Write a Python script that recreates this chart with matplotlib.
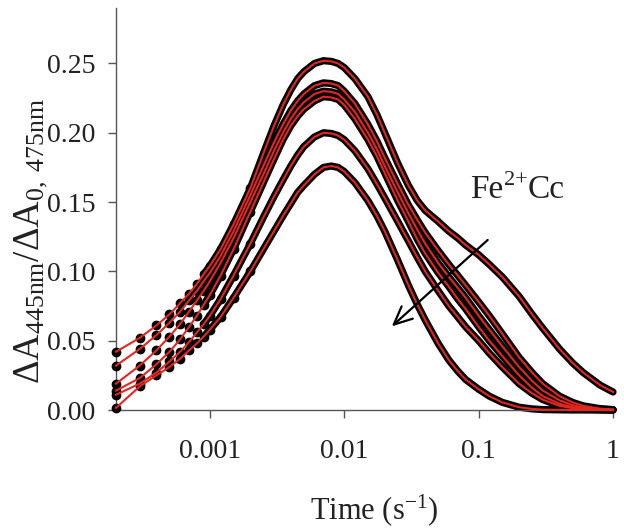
import matplotlib
matplotlib.use("Agg")
import matplotlib.pyplot as plt
import numpy as np

plt.rcParams['font.family'] = ['Liberation Serif', 'DejaVu Serif']
plt.rcParams['mathtext.fontset'] = 'custom'
plt.rcParams['mathtext.rm'] = 'Liberation Serif'
plt.rcParams['mathtext.it'] = 'Liberation Serif:italic'

# time points (s)
time = [0.0002, 0.0003, 0.0004, 0.0005, 0.0006, 0.0007, 0.0008, 0.0009, 0.001,
        0.0012, 0.0015, 0.002, 0.0025, 0.003, 0.0035, 0.004, 0.0045, 0.005, 0.006,
        0.007, 0.008, 0.009, 0.01, 0.012, 0.015, 0.0175, 0.02, 0.025, 0.03, 0.035,
        0.04, 0.05, 0.06, 0.07, 0.08, 0.1, 0.12, 0.15, 0.2, 0.25, 0.3, 0.4, 0.5,
        0.6, 0.8, 1.0]

curve1 = [0.042, 0.052, 0.061, 0.069, 0.077, 0.084, 0.091, 0.098, 0.104,
          0.116, 0.134, 0.160, 0.185, 0.205, 0.220, 0.231, 0.239, 0.244, 0.250,
          0.252, 0.2515, 0.250, 0.247, 0.239, 0.226, 0.213, 0.200, 0.178, 0.162, 0.151,
          0.144, 0.136, 0.129, 0.124, 0.119, 0.112, 0.105, 0.096, 0.082, 0.069, 0.059,
          0.044, 0.034, 0.027, 0.018, 0.013]
curve2 = [0.032, 0.044, 0.054, 0.063, 0.071, 0.079, 0.086, 0.093, 0.099,
          0.111, 0.129, 0.155, 0.176, 0.193, 0.206, 0.216, 0.223, 0.228, 0.234,
          0.236, 0.2355, 0.234, 0.230, 0.221, 0.206, 0.194, 0.182, 0.163, 0.148, 0.137,
          0.128, 0.115, 0.105, 0.097, 0.090, 0.078, 0.068, 0.055, 0.038, 0.027, 0.019,
          0.010, 0.0055, 0.003, 0.001, 0.0003]
curve3 = [0.019, 0.032, 0.043, 0.053, 0.062, 0.071, 0.079, 0.086, 0.093,
          0.106, 0.124, 0.150, 0.170, 0.187, 0.200, 0.210, 0.217, 0.222, 0.228,
          0.230, 0.2295, 0.228, 0.224, 0.215, 0.200, 0.188, 0.176, 0.157, 0.142, 0.130,
          0.120, 0.106, 0.096, 0.088, 0.081, 0.068, 0.058, 0.046, 0.031, 0.021, 0.014,
          0.007, 0.0035, 0.0018, 0.0006, 0.0002]
curve4 = [0.014, 0.023, 0.033, 0.042, 0.051, 0.060, 0.068, 0.076, 0.083,
          0.097, 0.116, 0.143, 0.164, 0.181, 0.195, 0.205, 0.212, 0.217, 0.223,
          0.226, 0.2255, 0.224, 0.220, 0.210, 0.195, 0.183, 0.171, 0.151, 0.136, 0.123,
          0.113, 0.099, 0.089, 0.080, 0.073, 0.060, 0.050, 0.039, 0.025, 0.016, 0.010,
          0.0045, 0.002, 0.001, 0.0003, 0.0001]
curve5 = [0.011, 0.019, 0.027, 0.035, 0.042, 0.049, 0.056, 0.062, 0.068,
          0.080, 0.097, 0.120, 0.139, 0.154, 0.166, 0.176, 0.184, 0.190, 0.197,
          0.200, 0.1995, 0.198, 0.195, 0.187, 0.174, 0.163, 0.153, 0.136, 0.122, 0.110,
          0.100, 0.086, 0.075, 0.067, 0.060, 0.050, 0.041, 0.031, 0.019, 0.012, 0.0075,
          0.003, 0.0013, 0.0006, 0.0002, 0.0]
curve6 = [0.0015, 0.017, 0.025, 0.031, 0.037, 0.043, 0.048, 0.053, 0.058,
          0.067, 0.081, 0.100, 0.116, 0.129, 0.140, 0.149, 0.157, 0.162, 0.170,
          0.175, 0.176, 0.175, 0.172, 0.164, 0.151, 0.140, 0.129, 0.108, 0.090, 0.076,
          0.065, 0.048, 0.036, 0.028, 0.022, 0.015, 0.010, 0.0055, 0.002, 0.0008, 0.0003,
          0.0001, 0.0, 0.0, 0.0, 0.0]

curves = [curve1, curve2, curve3, curve4, curve5, curve6]

xticks = [0.001, 0.01, 0.1, 1]
xticklabels = ['0.001', '0.01', '0.1', '1']
yticks = [0.00, 0.05, 0.10, 0.15, 0.20, 0.25]
yticklabels = ['0.00', '0.05', '0.10', '0.15', '0.20', '0.25']

fig = plt.figure(figsize=(6.24, 5.31), dpi=100)
ax = fig.add_axes([116/624, 121/531, (613-116)/624, (410-8)/531])

t = np.array(time)
early = t <= 0.002
band = t >= 0.0009
for c in curves:
    y = np.array(c)
    ax.plot(t[band], y[band], color='black', lw=5.2, solid_capstyle='round',
            solid_joinstyle='round', zorder=2, clip_on=False)
    ax.plot(t[early], y[early], 'o', color='black', ms=6.0, zorder=3, clip_on=False)
for c in curves:
    ax.plot(t, np.array(c), color='#e3261f', lw=1.5, solid_joinstyle='round',
            zorder=4, clip_on=False)

ax.set_xscale('log')
ax.set_xlim(0.0002, 1)
ax.set_ylim(0, 0.29)
ax.set_xticks(xticks)
ax.set_xticklabels(xticklabels)
ax.xaxis.set_minor_locator(matplotlib.ticker.NullLocator())
ax.set_yticks(yticks)
ax.set_yticklabels(yticklabels)

for s in ['top', 'right']:
    ax.spines[s].set_visible(False)
for s in ['left', 'bottom']:
    ax.spines[s].set_color('#555555')
    ax.spines[s].set_linewidth(1.0)
ax.tick_params(axis='both', direction='out', length=6, width=1.0, color='#555555',
               labelsize=20, labelcolor='#222222')
ax.tick_params(axis='x', pad=15)
ax.tick_params(axis='y', pad=9)

ax.set_xlabel('Time (s$^{-1}$)', fontsize=22, color='#222222')
ax.xaxis.set_label_coords(0.52, -0.205)
ax.set_ylabel('ΔA$_{445\\mathrm{nm}}$/ΔA$_{0,\\ 475\\mathrm{nm}}$', fontsize=26.5, color='#222222')
ax.yaxis.set_label_coords(-0.133, 0.42)

ax.annotate('', xy=(0.0218, 0.059), xytext=(0.121, 0.124),
            arrowprops=dict(arrowstyle='->,head_length=1.3,head_width=0.6',
                            color='black', lw=1.6), zorder=6)
lab_xy = (0.0857, 0.1526)
ax.annotate('Fe', xy=lab_xy, xytext=(0, 0), textcoords='offset points',
            fontsize=24, color='#222222', ha='left', va='baseline')
ax.annotate('2+', xy=lab_xy, xytext=(24.5, 10), textcoords='offset points',
            fontsize=16, color='#222222', ha='left', va='baseline')
ax.annotate('Cc', xy=lab_xy, xytext=(41.5, 0), textcoords='offset points',
            fontsize=24, color='#222222', ha='left', va='baseline')

fig.savefig('out.png', dpi=100)
